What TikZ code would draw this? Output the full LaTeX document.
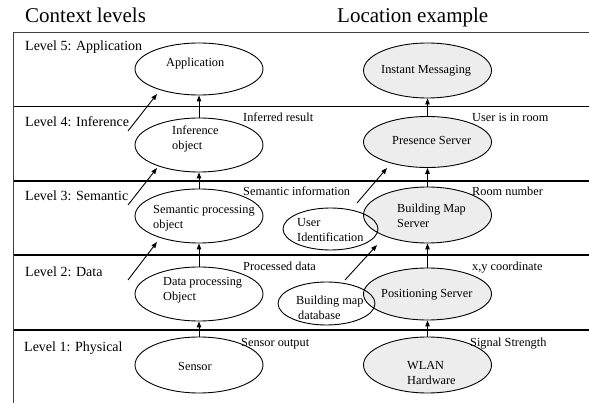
\documentclass[tikz,border=0pt]{standalone}
\usepackage{fontspec}
\setmainfont{Liberation Serif}
\usetikzlibrary{arrows.meta,shapes.geometric}
\begin{document}
\begin{tikzpicture}[x=1pt,y=-1pt,
  ttl/.style={anchor=base west,inner sep=0pt,font=\fontsize{21}{24}\selectfont},
  lvl/.style={anchor=base west,inner sep=0pt,font=\fontsize{14}{16}\selectfont},
  lab/.style={anchor=base west,inner sep=0pt,font=\fontsize{12.3}{14}\selectfont},
  etxt/.style={anchor=west,inner sep=0pt,align=left,font=\fontsize{12.3}{14.5}\selectfont},
  ell/.style={draw,ellipse,line width=0.9pt,minimum width=128pt,minimum height=54pt,inner sep=0pt},
  gell/.style={ell,fill=black!7},
  sell/.style={draw,ellipse,line width=0.9pt,minimum width=96pt,minimum height=43pt,inner sep=0pt},
  arr/.style={line width=0.9pt,-{Triangle[length=6pt,width=4.5pt]}},
  sep/.style={line width=#1},
]
\useasboundingbox (0,0) rectangle (589,403);

% titles
\node[ttl] (t1) at (25,23) {Context levels};
\node[ttl] (t2) at (337,23) {Location example};

% frame
\coordinate (f0l) at (13,32);  \coordinate (f0r) at (589,32);
\coordinate (f1l) at (13,106); \coordinate (f1r) at (589,106);
\coordinate (f2l) at (13,181); \coordinate (f2r) at (589,181);
\coordinate (f3l) at (13,255); \coordinate (f3r) at (589,255);
\coordinate (f4l) at (13,330); \coordinate (f4r) at (589,330);
\coordinate (fb) at (13,403);
\draw[line width=0.9pt,black!75] (f0l) -- (f0r);
\draw[sep=0.9pt] (f1l) -- (f1r);
\draw[sep=2pt] (f2l) -- (f2r);
\draw[sep=1.3pt] (f3l) -- (f3r);
\draw[sep=1.5pt] (f4l) -- (f4r);
\draw[line width=0.9pt,black!75] (f0l) -- (fb);

% level labels
\node[lvl] (l5) at (25,51) {Level 5: Application};
\node[lvl] (l4) at (25,127) {Level 4: Inference};
\node[lvl] (l3) at (25,201) {Level 3: Semantic};
\node[lvl] (l2) at (25,277) {Level 2: Data};
\node[lvl] (l1) at (24,352) {Level 1: Physical};

% left ellipses
\node[ell,minimum height=52pt] (app) at (199,69) {};
\node[ell] (inf) at (199,145) {};
\node[ell] (sem) at (199,216) {};
\node[ell] (dat) at (199,294) {};
\node[ell,minimum height=56pt] (sen) at (199,365) {};

% right ellipses
\node[gell,minimum height=55pt] (im) at (427.5,70.5) {};
\node[gell,minimum height=51pt] (ps) at (427.5,142) {};
\node[gell,minimum height=56pt] (bms) at (427.5,215) {};
\node[gell,minimum height=52pt] (pos) at (427.5,294) {};
\node[gell,minimum height=56pt] (wlan) at (427.5,365) {};

% small ellipses (transparent, on top)
\node[sell,minimum width=95pt,minimum height=42pt] (uid) at (330.5,229) {};
\node[sell,minimum width=97pt,minimum height=43pt] (bmd) at (326.5,303.5) {};

% ellipse texts
\node[etxt] (tapp) at (166,64) {Application};
\node[etxt] (tinf) at (172,139) {Inference\\object};
\node[etxt] (tsem) at (153,218) {Semantic processing\\object};
\node[etxt] (tdat) at (163,290) {Data processing\\Object};
\node[etxt] (tsen) at (178,366) {Sensor};
\node[etxt] (tim) at (381,71) {Instant Messaging};
\node[etxt] (tps) at (392,140) {Presence Server};
\node[etxt] (tbms) at (397,216) {Building Map\\Server};
\node[etxt] (tpos) at (381,295) {Positioning Server};
\node[etxt] (twl) at (407,373) {WLAN\\Hardware};
\node[etxt] (tuid) at (297,230) {User\\Identification};
\node[etxt] (tbmd) at (296,308) {Building map\\\hspace*{2pt}database};

% side labels
\node[lab] (r4) at (243,122) {Inferred result};
\node[lab] (r3) at (243,196) {Semantic information};
\node[lab] (r2) at (243,271) {Processed data};
\node[lab] (r1) at (241,346) {Sensor output};
\node[lab] (s4) at (472,122) {User is in room};
\node[lab] (s3) at (472,196) {Room number};
\node[lab] (s2) at (472,271) {x,y coordinate};
\node[lab] (s1) at (470,346) {Signal Strength};

% vertical arrows
\draw[arr] (inf) -- (app);
\draw[arr] (sem) -- (inf);
\draw[arr] (dat) -- (sem);
\draw[arr] (sen) -- (dat);
\draw[arr] (ps) -- (im);
\draw[arr] (bms) -- (ps);
\draw[arr] (pos) -- (bms);
\draw[arr] (wlan) -- (pos);

% diagonal arrows
\coordinate (d5s) at (128,131); \coordinate (d5e) at (157,94);
\coordinate (d4s) at (128,205); \coordinate (d4e) at (157,168);
\coordinate (d3s) at (128,280); \coordinate (d3e) at (157,242);
\coordinate (u1s) at (357,203); \coordinate (u1e) at (387,168);
\coordinate (u2s) at (345,280); \coordinate (u2e) at (377,245);
\draw[arr] (d5s) -- (d5e);
\draw[arr] (d4s) -- (d4e);
\draw[arr] (d3s) -- (d3e);
\draw[arr] (u1s) -- (u1e);
\draw[arr] (u2s) -- (u2e);
\end{tikzpicture}
\end{document}
